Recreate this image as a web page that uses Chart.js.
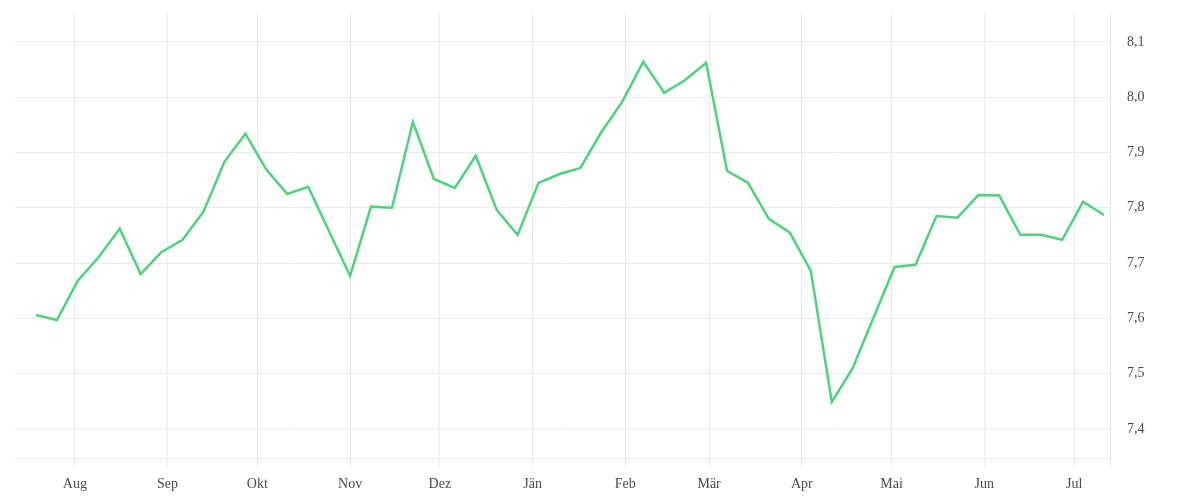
<!DOCTYPE html>
<html>
<head>
<meta charset="utf-8">
<script src="https://cdn.jsdelivr.net/npm/chart.js@4/dist/chart.umd.min.js"></script>
<style>
  html, body { margin: 0; padding: 0; background: #fff; }
  #wrap { width: 1200px; height: 500px; }
</style>
</head>
<body>
<div id="wrap"><canvas id="myChart-ph"></canvas></div>
<script>
// weekly readings, Jul 2024 - Jul 2025
const weekDates = [
  "2024-07-19", "2024-07-26", "2024-08-02", "2024-08-09", "2024-08-16", "2024-08-23", "2024-08-30",
  "2024-09-06", "2024-09-13", "2024-09-20", "2024-09-27", "2024-10-04", "2024-10-11", "2024-10-18",
  "2024-10-25", "2024-11-01", "2024-11-08", "2024-11-15", "2024-11-22", "2024-11-29", "2024-12-06",
  "2024-12-13", "2024-12-20", "2024-12-27", "2025-01-03", "2025-01-10", "2025-01-17", "2025-01-24",
  "2025-01-31", "2025-02-07", "2025-02-14", "2025-02-21", "2025-02-28", "2025-03-07", "2025-03-14",
  "2025-03-21", "2025-03-28", "2025-04-04", "2025-04-11", "2025-04-18", "2025-04-25", "2025-05-02",
  "2025-05-09", "2025-05-16", "2025-05-23", "2025-05-30", "2025-06-06", "2025-06-13", "2025-06-20",
  "2025-06-27", "2025-07-04", "2025-07-11"
];
const weekValues = [
  7.606, 7.597, 7.668, 7.711, 7.762, 7.680, 7.720,
  7.742, 7.793, 7.883, 7.934, 7.869, 7.825, 7.838,
  7.757, 7.677, 7.802, 7.800, 7.955, 7.852, 7.836,
  7.894, 7.796, 7.751, 7.845, 7.861, 7.872, 7.937,
  7.992, 8.064, 8.008, 8.031, 8.062, 7.867, 7.845,
  7.780, 7.755, 7.686, 7.449, 7.510, 7.602, 7.693,
  7.697, 7.785, 7.782, 7.823, 7.822, 7.751, 7.751,
  7.742, 7.811, 7.787
];
const monthDates = [
  "2024-08-01", "2024-09-01", "2024-10-01", "2024-11-01", "2024-12-01", "2025-01-01",
  "2025-02-01", "2025-03-01", "2025-04-01", "2025-05-01", "2025-06-01", "2025-07-01"
];
const monthLabels = ["Aug", "Sep", "Okt", "Nov", "Dez", "Jän", "Feb", "Mär", "Apr", "Mai", "Jun", "Jul"];
const yTicks = [7.4, 7.5, 7.6, 7.7, 7.8, 7.9, 8.0, 8.1];
const xRange = ["2024-07-12", "2025-07-13"];
const yRange = [7.3475, 8.154];

// no date adapter here, so dates become day numbers from 1 Aug
const dayZero = Date.UTC(2024, 7, 1);
function toDay(s) {
  const p = s.split("-").map(Number);
  return (Date.UTC(p[0], p[1] - 1, p[2]) - dayZero) / 86400000;
}
const monthDays = monthDates.map(toDay);
const points = weekDates.map((d, i) => ({ x: toDay(d), y: weekValues[i] }));
const xMin = toDay(xRange[0]);
const xMax = toDay(xRange[1]);

const gridCol = "#ebebeb";
const textCol = "#4a4a4a";
const font = { family: "'Liberation Serif', serif", size: 14 };

const ctx = document.getElementById('myChart-ph');
new Chart(ctx, {
  type: "line",
  data: {
    datasets: [{
      data: points,
      borderColor: "#4cd37b",
      borderWidth: 2.5,
      pointRadius: 0,
      tension: 0,
      fill: false
    }]
  },
  options: {
    responsive: true,
    maintainAspectRatio: false,
    animation: false,
    layout: { padding: { top: 12, left: 15, right: 0, bottom: 0 } },
    plugins: {
      legend: { display: false },
      tooltip: { enabled: false }
    },
    scales: {
      x: {
        type: "linear",
        min: xMin,
        max: xMax,
        afterBuildTicks: (scale) => {
          scale.ticks = monthDays.concat([xMax]).map(v => ({ value: v }));
        },
        afterFit: (scale) => {
          scale.height = 42;
          scale.paddingLeft = 0;
          scale.paddingRight = 0;
        },
        grid: { color: gridCol, tickLength: 10, drawTicks: true },
        border: { color: gridCol },
        ticks: {
          autoSkip: false,
          maxRotation: 0,
          padding: 8,
          color: textCol,
          font: font,
          callback: (val) => {
            const i = monthDays.indexOf(val);
            return i >= 0 ? monthLabels[i] : "";
          }
        }
      },
      y: {
        position: "right",
        min: yRange[0],
        max: yRange[1],
        afterBuildTicks: (scale) => {
          scale.ticks = yTicks.map(v => ({ value: v }));
        },
        afterFit: (scale) => {
          scale.width = 90;
          scale.paddingTop = 0;
          scale.paddingBottom = 0;
        },
        grid: { color: gridCol, drawTicks: false },
        border: { color: gridCol },
        ticks: {
          padding: 17,
          color: textCol,
          font: font,
          callback: (val) => val.toFixed(1).replace(".", ",")
        }
      }
    }
  }
});
</script>
</body>
</html>
